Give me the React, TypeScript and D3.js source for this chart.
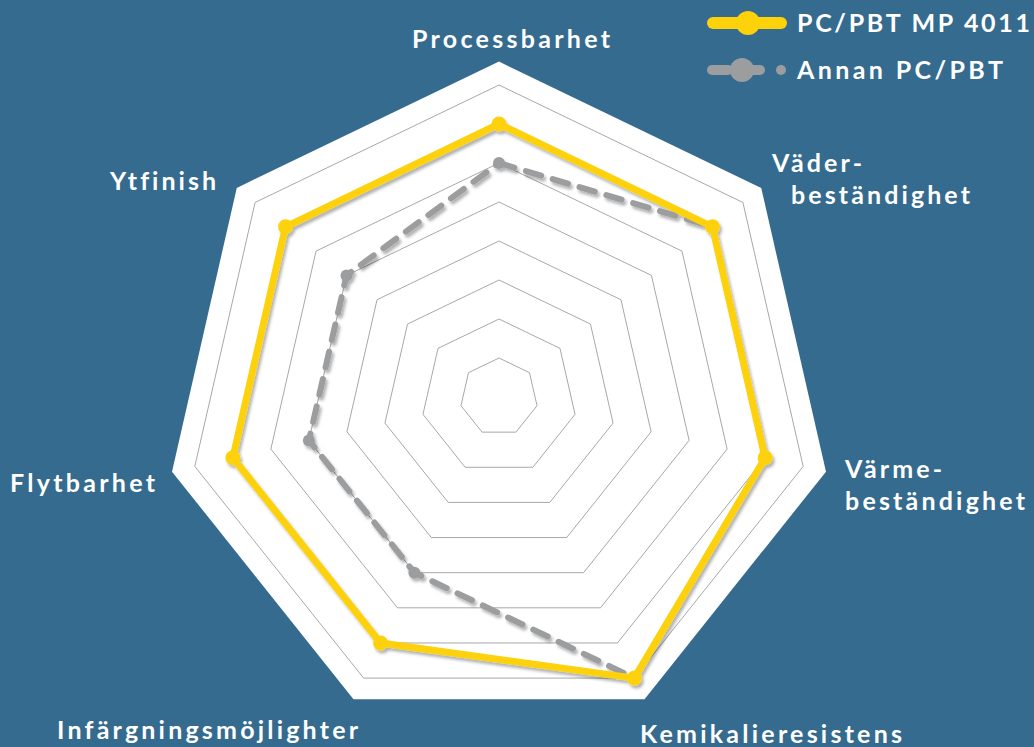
import React from 'react'
import * as d3 from 'd3'

// axis labels (clockwise from top), each may span two lines
const axes = [
  ['Processbarhet'],
  ['Väder-', 'beständighet'],
  ['Värme-', 'beständighet'],
  ['Kemikalieresistens'],
  ['Infärgningsmöjlighter'],
  ['Flytbarhet'],
  ['Ytfinish'],
]
const mp4011 = [7, 7, 7, 8, 7, 7, 7]
const annan = [6, 7, 7, 8, 5, 5, 5]
const seriesNames = ['PC/PBT MP 4011', 'Annan PC/PBT']
const levels = [1, 2, 3, 4, 5, 6, 7, 8]

const W = 1034
const H = 747
const cx = 499
const cy = 397
const BG = '#356b8f'
const YELLOW = '#fdd20a'
const GRAY = '#9b9d9f'
const FONT = 'Lato, "Open Sans", sans-serif'

// label layout: first-line x, baseline y, then per-line [x offset, width]
const labelPos: [number, number, [number, number][]][] = [
  [412, 48, [[0, 198]]],
  [772, 172, [[0, 90], [19, 179]]],
  [845, 478, [[0, 97], [0, 180]]],
  [640, 743, [[0, 262]]],
  [57, 739, [[0, 301]]],
  [10, 492, [[0, 145]]],
  [110, 190, [[0, 106]]],
]
const legendWidths = [233, 206]

export default function App() {
  const r = d3.scaleLinear().domain([0, 8]).range([0, 312])
  const angle = d3.scaleLinear().domain([0, axes.length]).range([0, 2 * Math.PI])
  const pt = (i: number, v: number) => {
    const a = angle(i)
    return [cx + r(v) * Math.sin(a), cy - r(v) * Math.cos(a)]
  }
  const radial = d3.lineRadial<number>()
    .angle((d, i) => angle(i))
    .radius(d => r(d))
    .curve(d3.curveLinearClosed)
  const ring = (v: number) => radial(axes.map(() => v))

  return (
    <svg width={W} height={H}
      style={{ position: 'absolute', left: 0, top: 0, display: 'block', fontVariantLigatures: 'none' }}
      fontFamily={FONT}>
      <defs>
        <filter id="sh" x="-10%" y="-10%" width="120%" height="120%">
          <feDropShadow dx="2" dy="3" stdDeviation="1.5" floodColor="#000" floodOpacity="0.3" />
        </filter>
      </defs>
      <rect width={W} height={H} fill={BG} />
      <g transform={`translate(${cx},${cy})`}>
        <path d={ring(8.6)} fill="#fff" />
        {levels.map(l => (
          <path key={l} d={ring(l)} fill="none" stroke="#a8a8a8" strokeWidth={1} />
        ))}
      </g>

      <g filter="url(#sh)">
        <g transform={`translate(${cx},${cy})`}>
          <path d={radial(annan)} fill="none" stroke={GRAY} strokeWidth={6}
            strokeDasharray="16 12" strokeLinecap="round" strokeLinejoin="round" />
        </g>
        {annan.map((v, i) => {
          const [x, y] = pt(i, v)
          return <circle key={i} cx={x} cy={y} r={6} fill={GRAY} />
        })}
        <g transform={`translate(${cx},${cy})`}>
          <path d={radial(mp4011)} fill="none" stroke={YELLOW} strokeWidth={7}
            strokeLinejoin="round" />
        </g>
        {mp4011.map((v, i) => {
          const [x, y] = pt(i, v)
          return <circle key={i} cx={x} cy={y} r={7.5} fill={YELLOW} />
        })}
      </g>

      {axes.map((lines, i) => {
        const [x, y, spec] = labelPos[i]
        return lines.map((t, j) => (
          <text key={i + '-' + j} x={x + spec[j][0]} y={y + j * 32} fill="#fff" fontSize={25}
            fontWeight="bold" textLength={spec[j][1]} lengthAdjust="spacing">{t}</text>
        ))
      })}

      {/* legend */}
      <g>
        <line x1={713} x2={781} y1={23} y2={23} stroke={YELLOW} strokeWidth={12} strokeLinecap="round" />
        <circle cx={748} cy={23} r={12} fill={YELLOW} />
        <line x1={712} x2={728} y1={70} y2={70} stroke={GRAY} strokeWidth={10} strokeLinecap="round" />
        <circle cx={742} cy={70} r={12} fill={GRAY} />
        <line x1={752} x2={760} y1={70} y2={70} stroke={GRAY} strokeWidth={10} strokeLinecap="round" />
        <circle cx={781} cy={70} r={5} fill={GRAY} />
        {seriesNames.map((s, i) => (
          <text key={s} x={797} y={32 + i * 47} fill="#fff" fontSize={25} fontWeight="bold"
            textLength={legendWidths[i]} lengthAdjust="spacing">{s}</text>
        ))}
      </g>
    </svg>
  )
}
